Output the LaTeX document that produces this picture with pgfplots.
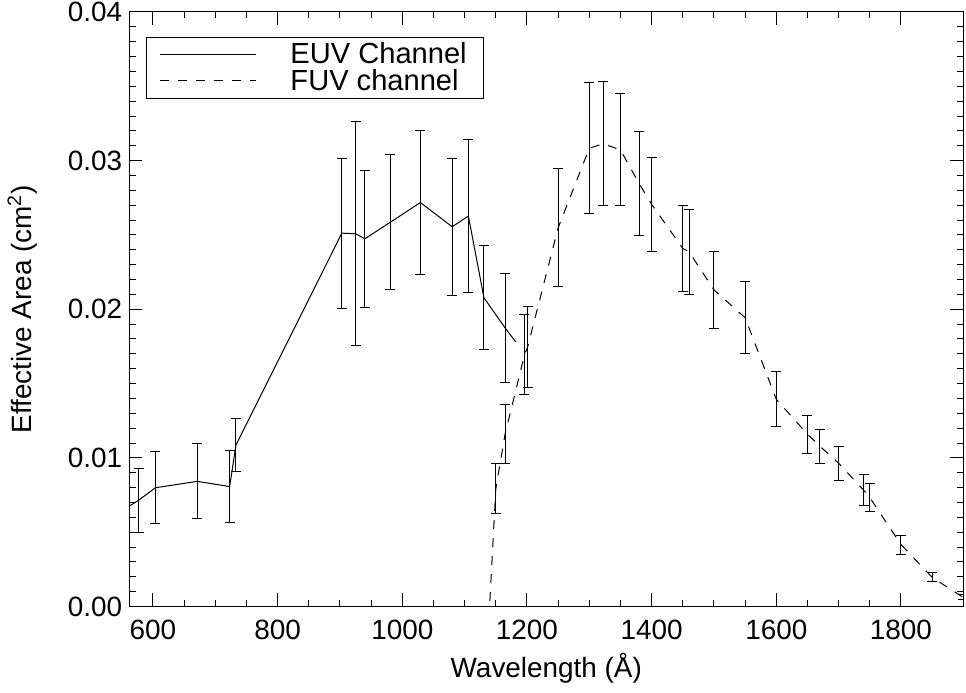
\documentclass[border=0pt]{standalone}
\usepackage{pgfplots}
\pgfplotsset{compat=1.18}
\usepackage{pgfplotstable}
\usepackage{fontspec}
\setmainfont{Liberation Sans}

\pgfplotstableread{
x y
562 0.00676
577 0.00715
604 0.00799
671 0.00842
723 0.00807
733 0.01085
903 0.02512
925 0.02508
940 0.02474
981 0.02586
1029 0.02718
1080 0.02555
1106 0.02627
1131 0.02077
1165 0.01874
1182 0.0178
}\euvline

\pgfplotstableread{
x y e
577 0.00715 0.00215
604 0.00799 0.00241
671 0.00842 0.00253
723 0.00807 0.00244
733 0.01085 0.00180
903 0.02512 0.00504
925 0.02508 0.00754
940 0.02474 0.00459
981 0.02586 0.00452
1029 0.02718 0.00483
1080 0.02555 0.00461
1106 0.02627 0.00516
1131 0.02077 0.00351
1165 0.01874 0.00365
}\euverr

\pgfplotstableread{
x y
1120 0
1140 0
1150 0.00792
1165 0.01162
1196 0.01694
1201 0.01746
1250 0.02548
1300 0.03083
1322 0.03114
1350 0.03072
1380 0.02845
1400 0.02706
1450 0.02409
1460 0.02387
1500 0.02130
1550 0.01943
1600 0.01394
1650 0.01159
1670 0.01078
1700 0.00964
1740 0.00783
1750 0.00733
1800 0.00417
1850 0.00196
1900 0.00061
}\fuvline

\pgfplotstableread{
x y e
1150 0.00792 0.00167
1165 0.01162 0.00198
1196 0.01694 0.00268
1201 0.01746 0.00274
1250 0.02548 0.00396
1300 0.03083 0.00442
1322 0.03114 0.00415
1350 0.03072 0.00377
1380 0.02845 0.00348
1400 0.02706 0.00318
1450 0.02409 0.00291
1460 0.02387 0.00285
1500 0.02130 0.00258
1550 0.01943 0.00242
1600 0.01394 0.00184
1650 0.01159 0.00129
1670 0.01078 0.00116
1700 0.00964 0.00114
1740 0.00783 0.00102
1750 0.00733 0.00096
1800 0.00417 0.00064
1850 0.00196 0.00031
1900 0.00061 0.00017
}\fuverr

\begin{document}
\begin{tikzpicture}
\begin{axis}[
  name=ax,
  scale only axis,
  width=417bp, height=297.25bp,
  xmin=562, xmax=1900, ymin=0, ymax=0.04,
  xtick={600,800,...,1800},
  ytick={0,0.01,0.02,0.03,0.04},
  minor x tick num=3,
  minor y tick num=9,
  tick align=inside,
  tick pos=both,
  xticklabel pos=lower,
  yticklabel pos=left,
  major tick length=6.5bp,
  minor tick length=3.2bp,
  axis line style={line width=0.5bp},
  every tick/.style={black, line width=0.5bp},
  scaled y ticks=false,
  /pgf/number format/assume math mode=true,
  /pgf/number format/set thousands separator={},
  yticklabel style={/pgf/number format/.cd, fixed, fixed zerofill, precision=2},
  ticklabel style={font=\fontsize{14}{16}\selectfont},
  xticklabel style={yshift=-3bp},
  xlabel={Wavelength (Å)},
  ylabel={Effective Area (cm\textsuperscript{2})},
  every axis x label/.style={at={(axis description cs:0.5,0)}, anchor=center, yshift=-30.75bp, font=\fontsize{14}{16}\selectfont},
  every axis y label/.style={at={(axis description cs:-0.1283,0.5)}, anchor=center, rotate=90, font=\fontsize{14}{16}\selectfont},
  legend style={at={(axis description cs:0,1)}, anchor=north west, xshift=8.35bp, yshift=-12.5bp,
    draw=black, line width=0.5bp, font=\fontsize{14.6}{15}\selectfont,
    inner xsep=6.5bp, inner ysep=2.5bp, row sep=1.2bp,
    nodes={inner ysep=0bp},
    /tikz/every odd column/.append style={column sep=15bp}},
  legend cell align=left,
  legend image code/.code={\draw[#1] (0bp,0bp) -- (48bp,0bp);},
]
\addplot[black, line width=0.5bp] table[x=x,y=y]{\euvline};
\addlegendentry{EUV Channel}
\addplot[black, line width=0.5bp, dash pattern=on 4.5bp off 4.5bp] table[x=x,y=y]{\fuvline};
\addlegendentry{FUV channel}
\addplot[draw=none, mark=none, forget plot,
  error bars/.cd, y dir=both, y explicit,
  error bar style={draw=black, solid, line width=0.5bp},
  error mark options={draw=black, solid, rotate=90, mark size=2.5bp, line width=0.5bp}]
  table[x=x,y=y,y error=e]{\euverr};
\addplot[draw=none, mark=none, forget plot,
  error bars/.cd, y dir=both, y explicit,
  error bar style={draw=black, solid, line width=0.5bp},
  error mark options={draw=black, solid, rotate=90, mark size=2.5bp, line width=0.5bp}]
  table[x=x,y=y,y error=e]{\fuverr};
\end{axis}
\pgfresetboundingbox
\path[use as bounding box] ([xshift=-64.65bp,yshift=-43.25bp]ax.south west) rectangle ([xshift=1.35bp,yshift=6bp]ax.north east);
\end{tikzpicture}
\end{document}
